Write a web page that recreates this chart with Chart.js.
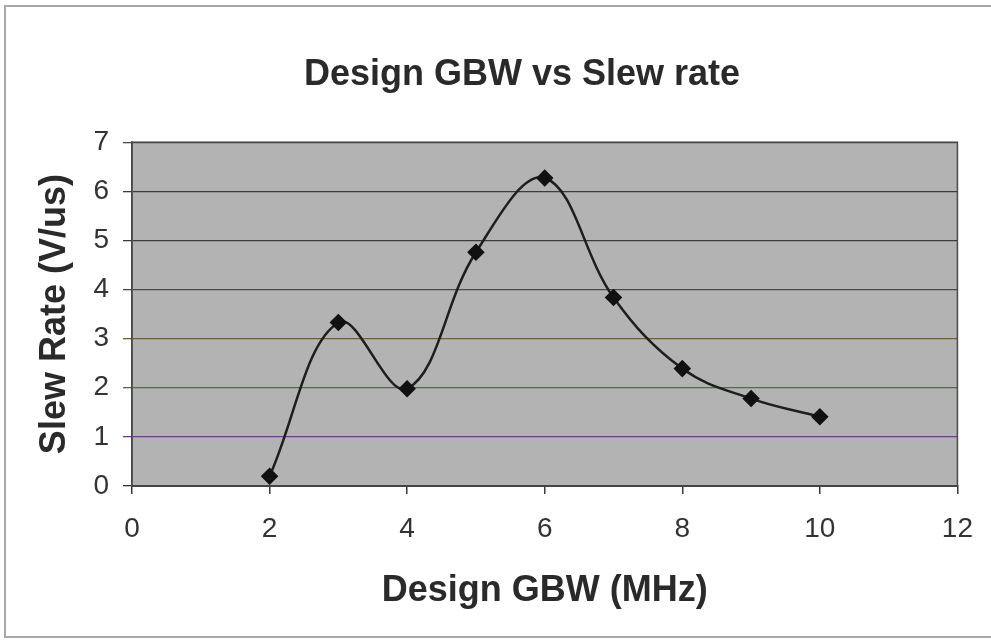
<!DOCTYPE html>
<html>
<head>
<meta charset="utf-8">
<title>Design GBW vs Slew rate</title>
<script src="https://cdn.jsdelivr.net/npm/chart.js@4/dist/chart.umd.min.js"></script>
<style>
  html, body { margin: 0; padding: 0; background: #fff; }
  #wrap { width: 991px; height: 640px; }
</style>
</head>
<body>
<div id="wrap"><canvas id="myChart" width="991" height="640"></canvas></div>
<script>
'use strict';

// measured points
let gbwValues = [2, 3, 4, 5, 6, 7, 8, 9, 10];
let slewValues = [0.2, 3.33, 1.98, 4.76, 6.27, 3.84, 2.39, 1.78, 1.41];

let xTickValues = [0, 2, 4, 6, 8, 10, 12];
let yTickValues = [0, 1, 2, 3, 4, 5, 6, 7];

// the scanned gridlines come out slightly tinted, bottom to top
let gridColors = ['#2f3540', '#6b3f86', '#3d7a35', '#6a6236', '#5a3e5c', '#3c3c3c', '#3c3c3c', '#4a4a4a'];

let points = [];
for (let i = 0; i < gbwValues.length; i++) {
    points.push({x: gbwValues[i], y: slewValues[i]});
}

let fontFamily = '"Liberation Sans", Arial, sans-serif';

// white sheet with a thin frame, grey plot area and its border
let chartFrame = {
    id: 'chartFrame',
    beforeDraw(chart) {
        let ctx = chart.ctx;
        let a = chart.chartArea;
        ctx.save();
        ctx.fillStyle = '#ffffff';
        ctx.fillRect(0, 0, chart.width, chart.height);
        ctx.strokeStyle = '#a8a8a8';
        ctx.lineWidth = 2;
        ctx.strokeRect(5, 6, chart.width + 20, chart.height - 9);
        ctx.fillStyle = '#b3b3b3';
        ctx.fillRect(a.left, a.top, a.right - a.left, a.bottom - a.top);
        ctx.restore();
    },
    beforeDatasetsDraw(chart) {
        let ctx = chart.ctx;
        let a = chart.chartArea;
        ctx.save();
        ctx.strokeStyle = '#4a4a4a';
        ctx.lineWidth = 1.5;
        ctx.strokeRect(a.left, a.top, a.right - a.left, a.bottom - a.top);
        ctx.restore();
    }
};

let ctx = document.getElementById('myChart').getContext('2d');
let chart = new Chart(ctx, {
    type: 'line',
    data: {
        datasets: [{
            label: 'Slew rate',
            data: points,
            borderColor: '#1e1e1e',
            borderWidth: 2.5,
            tension: 0.38,
            pointStyle: 'rectRot',
            pointRadius: 7,
            pointBackgroundColor: '#111',
            pointBorderColor: '#111',
            fill: false
        }]
    },
    plugins: [chartFrame],
    options: {
        responsive: false,
        animation: false,
        layout: {
            padding: {left: 84, right: 31, top: 20, bottom: 0}
        },
        plugins: {
            legend: {display: false},
            tooltip: {enabled: false},
            title: {
                display: true,
                text: 'Design GBW vs Slew rate',
                color: '#2a2a2a',
                font: {family: fontFamily, size: 36, weight: 'bold'},
                padding: {top: 33, bottom: 46}
            }
        },
        scales: {
            x: {
                type: 'linear',
                min: 0,
                max: 12,
                afterBuildTicks(scale) {
                    scale.ticks = xTickValues.map(v => ({value: v}));
                },
                afterFit(scale) {
                    scale.height = 154;
                },
                grid: {
                    drawOnChartArea: false,
                    drawTicks: true,
                    tickLength: 8,
                    color: '#3a3a3a',
                    lineWidth: 1.5
                },
                border: {display: true, color: '#2f3540', width: 2},
                ticks: {
                    color: '#333',
                    font: {family: fontFamily, size: 28},
                    padding: 18,
                    maxRotation: 0
                },
                title: {
                    display: true,
                    text: 'Design GBW (MHz)',
                    color: '#2a2a2a',
                    font: {family: fontFamily, size: 36, weight: 'bold'},
                    padding: {top: 0, bottom: 27}
                }
            },
            y: {
                type: 'linear',
                min: 0,
                max: 7,
                afterBuildTicks(scale) {
                    scale.ticks = yTickValues.map(v => ({value: v}));
                },
                afterFit(scale) {
                    scale.width = 48;
                },
                grid: {
                    drawOnChartArea: true,
                    drawTicks: true,
                    tickLength: 9,
                    color: function(c) {
                        return gridColors[c.index] || '#3c3c3c';
                    },
                    lineWidth: 1.3
                },
                border: {display: true, color: '#4a4a4a', width: 1.5},
                ticks: {
                    color: '#333',
                    font: {family: fontFamily, size: 28},
                    padding: 14
                },
                title: {
                    display: true,
                    text: 'Slew Rate (V/us)',
                    color: '#2a2a2a',
                    font: {family: fontFamily, size: 36, weight: 'bold'},
                    padding: {top: -51, bottom: 0}
                }
            }
        }
    }
});
</script>
</body>
</html>
